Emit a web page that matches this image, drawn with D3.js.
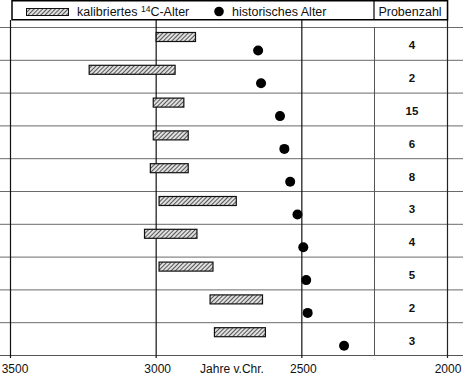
<!DOCTYPE html>
<html>
<head>
<meta charset="utf-8">
<script src="https://cdn.jsdelivr.net/npm/d3@7/dist/d3.min.js"></script>
<style>
  body { margin: 0; background: #fff; }
  svg { display: block; font-family: "Liberation Sans", Arial, sans-serif; }
</style>
</head>
<body>
<svg id="chart" width="463" height="375"></svg>
<script>
// calibrated 14C age ranges (from, to) in years BC
const c14From = [3000, 3230, 3010, 3010, 3020, 2990, 3040, 2990, 2815, 2800]
const c14To = [2865, 2935, 2905, 2890, 2890, 2725, 2860, 2805, 2635, 2625]
// historical ages
const histAge = [2650, 2640, 2575, 2560, 2540, 2515, 2495, 2485, 2480, 2355]
// number of samples
const sampleCount = [4, 2, 15, 6, 8, 3, 4, 5, 2, 3]
const tickYears = [3500, 3000, 2500, 2000]
const gridYears = [3500, 3000, 2500]

const width = 463
const height = 375
const svg = d3.select('#chart')

const x = d3.scaleLinear().domain([3500, 2000]).range([10.5, 447.5])
const y = d3.scaleBand().domain(d3.range(c14From.length)).range([27, 355])
const axisY = 355
const tableX = 374

// hatch pattern
const defs = svg.append('defs')
const pat = defs.append('pattern')
  .attr('id', 'hatch')
  .attr('patternUnits', 'userSpaceOnUse')
  .attr('width', 3)
  .attr('height', 3)
  .attr('patternTransform', 'rotate(45)')
pat.append('rect').attr('width', 3).attr('height', 3).attr('fill', '#e0e0e0')
pat.append('line').attr('x1', 0).attr('y1', 0).attr('x2', 0).attr('y2', 3)
  .attr('stroke', '#1a1a1a').attr('stroke-width', 1.4)

// row separator lines
svg.append('g')
  .selectAll('line')
  .data(y.domain())
  .join('line')
  .attr('x1', 0)
  .attr('x2', width)
  .attr('y1', d => y(d) + 0.5)
  .attr('y2', d => y(d) + 0.5)
  .attr('stroke', '#6a6a6a')
  .attr('stroke-width', 1)

// axis line
svg.append('line')
  .attr('x1', 0).attr('x2', width)
  .attr('y1', axisY + 0.5).attr('y2', axisY + 0.5)
  .attr('stroke', '#555').attr('stroke-width', 1)

// vertical year lines
svg.append('g')
  .selectAll('line')
  .data(gridYears)
  .join('line')
  .attr('x1', d => x(d))
  .attr('x2', d => x(d))
  .attr('y1', 20)
  .attr('y2', axisY + 3)
  .attr('stroke', '#111')
  .attr('stroke-width', 1.2)

// table separator and right frame (2000)
svg.append('line')
  .attr('x1', tableX + 0.5).attr('x2', tableX + 0.5)
  .attr('y1', 27).attr('y2', axisY)
  .attr('stroke', '#555').attr('stroke-width', 1)
svg.append('line')
  .attr('x1', x(2000)).attr('x2', x(2000))
  .attr('y1', 0).attr('y2', axisY + 3)
  .attr('stroke', '#222').attr('stroke-width', 1.2)

// bottom axis labels
const axis = d3.axisBottom(x).tickValues(tickYears).tickSize(0).tickPadding(0).tickFormat(d3.format('d'))
const ax = svg.append('g').attr('transform', `translate(1,${axisY + 9})`).call(axis)
ax.select('.domain').remove()
ax.selectAll('text')
  .attr('font-family', '"Liberation Sans", Arial, sans-serif')
  .attr('font-size', 12)
  .attr('fill', '#111')
  .attr('dy', '0.71em')
ax.selectAll('.tick').filter(d => d === 3500).select('text').attr('dx', 3)
ax.selectAll('.tick').filter(d => d === 2000).select('text').attr('dx', -1)

svg.append('text')
  .attr('x', 232)
  .attr('y', 372.5)
  .attr('text-anchor', 'middle')
  .attr('font-size', 12)
  .attr('fill', '#111')
  .text('Jahre v.Chr.')

// calibrated bars
svg.append('g')
  .selectAll('rect')
  .data(c14From.map((f, i) => ({ i, f, t: c14To[i] })))
  .join('rect')
  .attr('x', d => x(d.f))
  .attr('width', d => x(d.t) - x(d.f))
  .attr('y', d => y(d.i) + 5.5)
  .attr('height', 9)
  .attr('fill', 'url(#hatch)')
  .attr('stroke', '#111')
  .attr('stroke-width', 1.2)

// historical ages
svg.append('g')
  .selectAll('circle')
  .data(histAge)
  .join('circle')
  .attr('cx', d => x(d))
  .attr('cy', (d, i) => y(i) + 23.5)
  .attr('r', 5)
  .attr('fill', '#000')

// sample counts
svg.append('g')
  .selectAll('text')
  .data(sampleCount)
  .join('text')
  .attr('x', 412)
  .attr('y', (d, i) => y(i) + y.bandwidth() / 2 + 6)
  .attr('text-anchor', 'middle')
  .attr('font-size', 11.5)
  .attr('font-weight', 'bold')
  .attr('fill', '#111')
  .text(d => d)

// legend box
const legend = svg.append('g')
legend.append('rect')
  .attr('x', 12).attr('y', 0.75)
  .attr('width', x(2000) - 12).attr('height', 19)
  .attr('fill', '#fff')
  .attr('stroke', '#000').attr('stroke-width', 1.5)
legend.append('line')
  .attr('x1', tableX).attr('x2', tableX)
  .attr('y1', 0).attr('y2', 20)
  .attr('stroke', '#000').attr('stroke-width', 1.2)
legend.append('rect')
  .attr('x', 26.5).attr('y', 8.5)
  .attr('width', 42).attr('height', 7)
  .attr('fill', 'url(#hatch)')
  .attr('stroke', '#111').attr('stroke-width', 1)
const lt = legend.append('text')
  .attr('x', 77).attr('y', 15.5)
  .attr('font-size', 12.5)
  .attr('fill', '#111')
lt.append('tspan').text('kalibriertes ')
lt.append('tspan').attr('font-size', 8.5).attr('dy', -4).text('14')
lt.append('tspan').attr('dy', 4).text('C-Alter')
legend.append('circle')
  .attr('cx', 219).attr('cy', 11.5).attr('r', 4.8).attr('fill', '#000')
legend.append('text')
  .attr('x', 232).attr('y', 15.5)
  .attr('font-size', 12.5)
  .attr('fill', '#111')
  .text('historisches Alter')
legend.append('text')
  .attr('x', 410).attr('y', 15.5)
  .attr('text-anchor', 'middle')
  .attr('font-size', 12.5)
  .attr('fill', '#111')
  .text('Probenzahl')
</script>
</body>
</html>
